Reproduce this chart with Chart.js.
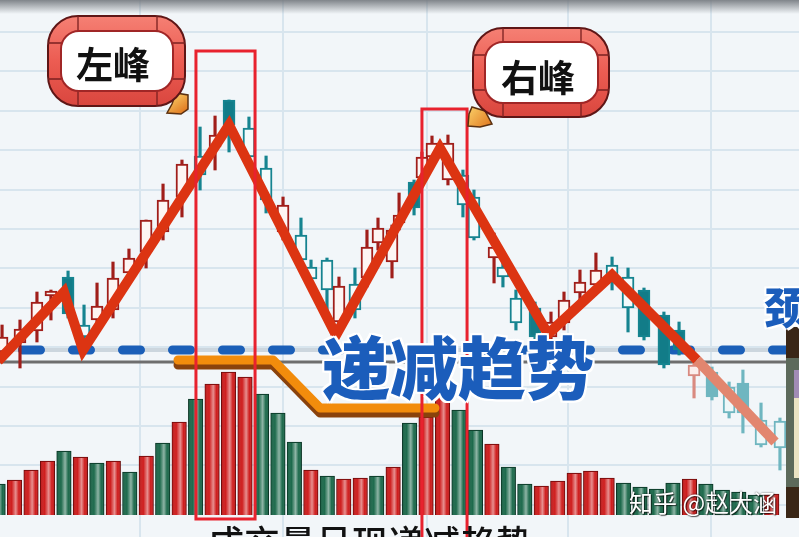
<!DOCTYPE html>
<html><head><meta charset="utf-8">
<script src="https://cdn.jsdelivr.net/npm/chart.js@4.4.1/dist/chart.umd.min.js"></script>
<style>
html,body{margin:0;padding:0;background:#f2f6f9;overflow:hidden;}
#wrap{position:relative;width:799px;height:537px;overflow:hidden;}
#c{position:absolute;left:0;top:0;}
.t{position:absolute;white-space:nowrap;line-height:1;font-family:"Noto Sans CJK SC","Noto Sans",sans-serif;}
#lp,#rp{font-size:37px;font-weight:700;color:#111;}
#lp{left:76px;top:45px;}
#rp{left:501px;top:58px;}
#trend{left:322px;top:331px;font-size:68px;font-weight:900;color:#1b5dbb;
 text-shadow:-2px -2px 0 #fff,2px -2px 0 #fff,-2px 2px 0 #fff,2px 2px 0 #fff,0 -2px 0 #fff,0 2px 0 #fff,-2px 0 0 #fff,2px 0 0 #fff;}
#neck{left:764px;top:284px;font-size:43px;font-weight:900;color:#1b5dbb;
 text-shadow:-2px -2px 0 #fff,2px -2px 0 #fff,-2px 2px 0 #fff,2px 2px 0 #fff;}
#bottom{left:208px;top:523px;font-size:36px;font-weight:500;color:#111;}
#wm{left:629px;top:490px;font-size:24px;color:#fff;
 text-shadow:0 0 2px rgba(0,0,0,.7),1px 1px 1px rgba(0,0,0,.6);}
</style></head><body>
<div id="wrap">
<canvas id="c" width="799" height="537"></canvas>
<div class="t" id="lp">左峰</div>
<div class="t" id="rp">右峰</div>
<div class="t" id="trend">递减趋势</div>
<div class="t" id="neck">颈线</div>
<div class="t" id="bottom">成交量呈现递减趋势</div>
<div class="t" id="wm">知乎 @赵大涵</div>
</div>
<script>
// ---------- DATA ----------
// volume bars, one per trading day (day index 0..47)
const volume = [31,35,45,54,64,58,52,54,43,59,72,93,116,131,143,138,121,102,73,45,39,36,37,39,48,
                92,98,118,105,85,71,48,31,29,34,42,44,37,32,28,26,32,36,31,25,23,20,21];
const volUp  = [0,1,1,1,0,1,0,1,0,1,0,1,0,1,1,1,0,0,0,1,0,1,1,0,1,
                0,1,1,0,0,1,0,0,1,1,1,1,1,0,0,0,0,1,0,0,0,0,1];
// candlesticks (time in day units, price)
const candleT = [0.24,1.33,2.36,3.21,4.25,5.22,6.01,6.98,7.95,8.99,10.02,11.17,12.27,13.18,14.03,15.24,16.28,17.31,
                 18.40,19.01,19.98,20.71,21.68,22.41,23.08,23.93,24.36,25.27,25.75,26.36,27.33,28.24,28.91,30.13,30.67,
                 31.46,32.62,33.59,34.38,35.35,36.32,37.30,38.27,39.24,40.45,41.37,42.28,43.37,44.41,45.25,46.35,47.50];
const open  = [9.25,9.70,10.30,12.05,13.00,10.60,10.85,11.35,13.20,14.25,15.25,17.00,19.05,19.50,21.85,20.45,18.45,15.25,
               15.10,13.50,13.85,10.75,12.65,12.95,14.70,13.75,15.70,17.75,17.95,19.00,17.85,18.10,17.00,13.95,13.50,
               11.95,11.45,10.00,10.70,12.20,12.60,13.60,13.00,12.35,11.10,10.35,8.05,8.25,7.50,7.70,5.85,5.80];
const high  = [10.60,10.85,12.25,12.35,13.30,11.60,12.70,13.75,14.40,15.85,17.65,18.85,20.50,21.05,21.85,21.00,19.05,17.00,
               15.95,13.85,13.95,13.00,13.45,15.35,15.95,15.60,17.20,17.85,19.25,20.05,20.10,18.35,17.35,15.20,13.85,
               12.35,11.75,11.25,12.25,13.35,14.20,14.00,13.45,12.45,11.25,10.75,8.70,8.50,7.75,8.35,6.70,5.95];
const low   = [8.85,8.45,9.75,10.85,10.95,9.35,10.35,10.95,12.70,13.45,14.85,16.00,17.35,18.35,19.25,18.35,16.20,14.85,
               13.35,12.35,11.35,10.20,10.95,12.50,14.35,12.95,15.35,16.10,17.60,18.60,17.60,16.00,14.85,12.70,12.50,
               10.35,9.85,9.60,10.35,11.45,12.35,12.35,10.25,9.85,8.45,9.10,6.95,6.85,5.95,5.20,4.50,3.35];
const close = [10.00,10.40,11.75,12.30,11.15,10.00,11.55,12.95,13.95,15.85,16.85,18.65,18.10,20.10,20.60,19.00,16.85,16.60,
               13.85,12.90,12.35,12.55,11.35,14.50,15.45,15.35,16.10,16.45,19.00,19.70,19.70,16.60,14.95,14.50,13.00,
               10.70,10.00,10.75,11.85,12.75,13.35,12.95,11.45,10.00,8.60,9.35,8.60,7.00,6.20,6.20,4.60,4.45];
// head-and-shoulder style zigzag (day, price)
const zigT = [0.00,4.00,5.16,14.03,20.53,26.85,33.41,37.30,42.46,47.20];
const zigP = [8.80,12.25,9.35,20.60,10.10,19.45,10.15,13.10,8.85,4.75];
// shrinking-volume trend line (day, volume)
const volTrendT = [10.93,16.70,19.56,26.54];
const volTrendV = [155,155,107,107];
// reference levels (price)
const necklinePrice = 9.35;
const supportPrice = 8.75;
// highlight boxes: [dayFrom, dayTo, priceTop, volumeBottom]
const boxes = [[12.02,15.61,24.30,-4],[25.75,28.49,21.40,-40]];

// ---------- STYLE ----------
const FILLED_DOWN = new Set([4,14,27,36,43,44,45,47,49]);
const FADE_FROM = 46;
const RED='#a01e1a', RED_F='#d98a80', TEAL='#168490', TEAL_F='#6fb6c0';
const isUp = i => close[i] >= open[i];
const cColor = i => i>=FADE_FROM ? (isUp(i)?RED_F:TEAL_F) : (isUp(i)?RED:TEAL);
const cFill = i => {
  if (isUp(i)) return i>=FADE_FROM ? '#fbeeec' : '#fdf5f3';
  if (FILLED_DOWN.has(i)) return i>=FADE_FROM ? TEAL_F : '#127c88';
  return i>=FADE_FROM ? '#eef7f8' : '#f4fafb';
};

const bodies = candleT.map((t,i)=>({x:t, y:[open[i], close[i]]}));
const wicks  = candleT.map((t,i)=>({x:t, y:[low[i], high[i]]}));
const vols   = volume.map((v,i)=>({x:i, y:v}));
const zig    = zigT.map((t,i)=>({x:t, y:zigP[i]}));
const vtrend = volTrendT.map((t,i)=>({x:t, y:volTrendV[i]}));

function rr(ctx,x,y,w,h,r){ctx.beginPath();ctx.moveTo(x+r,y);ctx.arcTo(x+w,y,x+w,y+h,r);ctx.arcTo(x+w,y+h,x,y+h,r);ctx.arcTo(x,y+h,x,y,r);ctx.arcTo(x,y,x+w,y,r);ctx.closePath();}
function poly(ctx,pts){ctx.beginPath();pts.forEach((p,i)=>i?ctx.lineTo(p[0],p[1]):ctx.moveTo(p[0],p[1]));ctx.closePath();}
function bubble(ctx,o,inn,ptr){
  ctx.save();
  poly(ctx,ptr);
  const pg=ctx.createLinearGradient(ptr[0][0],ptr[0][1],ptr[2][0],ptr[2][1]);
  pg.addColorStop(0,'#f8c862');pg.addColorStop(1,'#e07a22');
  ctx.fillStyle=pg;ctx.fill();ctx.strokeStyle='#5a3010';ctx.lineWidth=1.5;ctx.stroke();
  rr(ctx,o.x,o.y,o.w,o.h,30);
  const g=ctx.createLinearGradient(0,o.y,0,o.y+o.h);
  g.addColorStop(0,'#f58074');g.addColorStop(0.5,'#ec5c52');g.addColorStop(1,'#d9463e');
  ctx.fillStyle=g;ctx.fill();ctx.lineWidth=2;ctx.strokeStyle='#5e1616';ctx.stroke();
  ctx.strokeStyle='#7a2020';ctx.lineWidth=1.3;
  const dx1=o.x+30,dx2=o.x+o.w-28,dy1=o.y+27,dy2=o.y+o.h-27;
  const segs=[[dx1,o.y,dx1,inn.y],[dx2,o.y,dx2,inn.y],[dx1,o.y+o.h,dx1,inn.y+inn.h],[dx2,o.y+o.h,dx2,inn.y+inn.h],
    [o.x,dy1,inn.x,dy1],[o.x,dy2,inn.x,dy2],[o.x+o.w,dy1,inn.x+inn.w,dy1],[o.x+o.w,dy2,inn.x+inn.w,dy2]];
  ctx.beginPath();segs.forEach(s=>{ctx.moveTo(s[0],s[1]);ctx.lineTo(s[2],s[3]);});ctx.stroke();
  rr(ctx,inn.x,inn.y,inn.w,inn.h,18);ctx.fillStyle='#fff';ctx.fill();
  ctx.strokeStyle='#a02626';ctx.lineWidth=2;ctx.stroke();
  ctx.restore();
}

const deco = {
  id:'deco',
  beforeDraw(chart){
    const ctx=chart.ctx; const W=chart.width, H=chart.height;
    ctx.save();
    ctx.fillStyle='#f2f6f9';ctx.fillRect(0,0,W,H);
    ctx.strokeStyle='#d8e5ee';ctx.lineWidth=2;
    ctx.beginPath();
    for(let y=32;y<H-20;y+=39.4){ctx.moveTo(0,Math.round(y));ctx.lineTo(W,Math.round(y));}
    [140,283,427,568,711].forEach(x=>{ctx.moveTo(x,0);ctx.lineTo(x,H);});
    ctx.stroke();
    const g=ctx.createLinearGradient(0,0,0,14);
    g.addColorStop(0,'rgba(115,120,126,0.9)');g.addColorStop(1,'rgba(115,120,126,0)');
    ctx.fillStyle=g;ctx.fillRect(0,0,W,14);
    ctx.restore();
  },
  beforeDatasetsDraw(chart){
    const ctx=chart.ctx, yp=chart.scales.yp;
    const ys=yp.getPixelForValue(supportPrice), yn=yp.getPixelForValue(necklinePrice);
    ctx.save();
    ctx.strokeStyle='#6e6e6e';ctx.lineWidth=3;
    ctx.beginPath();ctx.moveTo(0,ys);ctx.lineTo(786,ys);ctx.stroke();
    ctx.strokeStyle='#ccd6de';ctx.lineWidth=4;
    ctx.beginPath();ctx.moveTo(0,yn);ctx.lineTo(786,yn);ctx.stroke();
    ctx.strokeStyle='#1b5fb8';ctx.lineWidth=9;ctx.lineCap='round';
    ctx.setLineDash([18,32]);ctx.lineDashOffset=27.5;
    ctx.beginPath();ctx.moveTo(0,yn);ctx.lineTo(786,yn);ctx.stroke();
    ctx.restore();
  },
  beforeDatasetDraw(chart,args){
    if(args.meta.label==='量能趋势'){
      const ctx=chart.ctx;ctx.save();
      ctx.shadowColor='#8a420c';ctx.shadowOffsetY=5;ctx.shadowOffsetX=0;ctx.shadowBlur=0;
    }
  },
  afterDatasetDraw(chart,args){
    const ctx=chart.ctx;
    if(args.meta.label==='量能趋势'){ctx.restore();}
    if(args.meta.label==='成交量'){
      ctx.save();
      args.meta.data.forEach(el=>{
        const p=el.getProps(['x','y','base','width'],true);
        const l=p.x-p.width/2;
        const g=ctx.createLinearGradient(l,0,l+p.width,0);
        g.addColorStop(0,'rgba(0,0,0,0.18)');g.addColorStop(0.3,'rgba(255,255,255,0)');
        g.addColorStop(0.58,'rgba(255,255,255,0.5)');g.addColorStop(0.8,'rgba(255,255,255,0)');
        g.addColorStop(1,'rgba(0,0,0,0.22)');
        ctx.fillStyle=g;ctx.fillRect(l+1,p.y+1,p.width-2,p.base-p.y-1);
      });
      ctx.restore();
    }
  },
  afterDraw(chart){
    const ctx=chart.ctx, x=chart.scales.x, yp=chart.scales.yp, yv=chart.scales.yv;
    ctx.save();
    ctx.strokeStyle='#e8222e';ctx.lineWidth=3;
    boxes.forEach(b=>{
      const x0=x.getPixelForValue(b[0]), x1=x.getPixelForValue(b[1]);
      const y0=yp.getPixelForValue(b[2]), y1=yv.getPixelForValue(b[3]);
      ctx.strokeRect(x0,y0,x1-x0,y1-y0);
    });
    ctx.restore();
    bubble(ctx,{x:48,y:16,w:137,h:90},{x:61,y:31,w:112,h:60},
      [[176,93],[188,95],[188,109],[181,114],[167,113],[172,104]]);
    bubble(ctx,{x:473,y:28,w:136,h:89},{x:485,y:42,w:113,h:61},
      [[472,107],[485,111],[492,124],[480,127],[468,126],[469,114]]);
    ctx.save();
    ctx.fillStyle='#3a2616';ctx.fillRect(786,327,13,31);
    ctx.fillStyle='#5d6a5b';ctx.fillRect(786,358,13,129);
    ctx.fillStyle='#a18bb5';ctx.fillRect(794,370,5,28);
    ctx.fillStyle='#ebe3c3';ctx.fillRect(794,398,5,80);
    ctx.fillStyle='#3a2616';ctx.fillRect(786,487,13,31);
    ctx.restore();
  }
};

new Chart(document.getElementById('c'),{
  type:'bar',
  data:{datasets:[
    {type:'line',label:'形态',data:zig,xAxisID:'x',yAxisID:'yp',order:1,
     borderColor:'#dc3412',borderWidth:10,pointRadius:0,tension:0,borderJoinStyle:'miter',borderCapStyle:'butt',
     segment:{borderColor:c=>c.p0DataIndex>=8?'#e2866f':'#dc3412'}},
    {type:'line',label:'量能趋势',data:vtrend,xAxisID:'x',yAxisID:'yv',order:2,
     borderColor:'#f28c0c',borderWidth:9,pointRadius:0,tension:0,borderJoinStyle:'round',borderCapStyle:'round'},
    {type:'bar',label:'K线实体',data:bodies,xAxisID:'x',yAxisID:'yp',order:3,grouped:false,barThickness:12,
     borderSkipped:false,borderWidth:2,
     backgroundColor:c=>cFill(c.dataIndex),borderColor:c=>cColor(c.dataIndex)},
    {type:'bar',label:'影线',data:wicks,xAxisID:'x',yAxisID:'yp',order:4,grouped:false,barThickness:2.5,
     borderWidth:0,backgroundColor:c=>cColor(c.dataIndex)},
    {type:'bar',label:'成交量',data:vols,xAxisID:'x',yAxisID:'yv',order:5,grouped:false,barThickness:14.5,
     borderWidth:1,borderSkipped:'start',
     backgroundColor:c=>volUp[c.dataIndex]?'#cf1e1e':'#1d6a4c',
     borderColor:c=>volUp[c.dataIndex]?'#6a0c0c':'#0c3626'}
  ]},
  options:{
    responsive:false,animation:false,devicePixelRatio:1,
    layout:{padding:0},
    plugins:{legend:{display:false},tooltip:{enabled:false}},
    scales:{
      x:{type:'linear',min:0.115,max:48.657,display:false,offset:false},
      y:{display:false},
      yp:{type:'linear',min:0,max:26.85,display:false},
      yv:{type:'linear',min:-22,max:515,display:false}
    }
  },
  plugins:[deco]
});
</script>
</body></html>
